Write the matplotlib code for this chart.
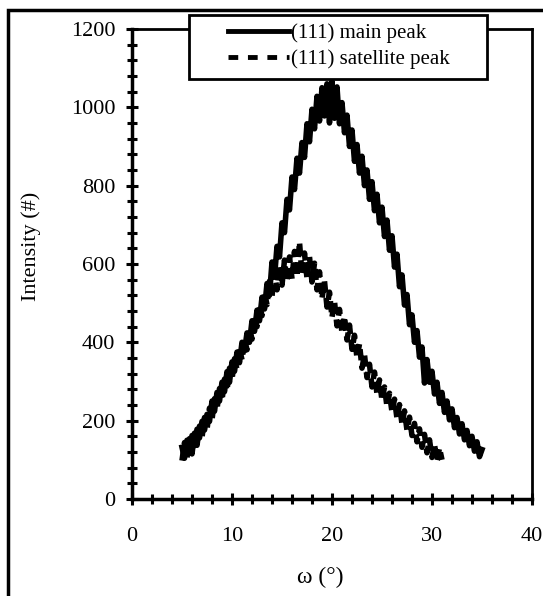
import numpy as np
import matplotlib
matplotlib.use('Agg')
import matplotlib.pyplot as plt
from matplotlib.patches import Rectangle
from matplotlib.lines import Line2D
from matplotlib.ticker import MultipleLocator

plt.rcParams['font.family'] = ['Liberation Serif', 'DejaVu Serif']
plt.rcParams['font.size'] = 15

# omega scans, 0.25 deg steps
omega_main = np.linspace(5.0, 35.0, 121)
omega_sat = np.linspace(5.0, 31.0, 105)

# (111) main peak intensity
main_peak = [
    132, 104, 150, 122, 162, 136, 178, 156, 198, 176, 216, 198, 250, 224, 272, 250,
    298, 274, 325, 298, 350, 326, 375, 348, 400, 378, 424, 400, 455, 428, 482, 455,
    515, 485, 550, 520, 605, 566, 645, 618, 705, 680, 765, 738, 822, 790, 870, 832,
    910, 872, 958, 912, 995, 945, 1028, 965, 1050, 978, 1060, 960, 1066, 972, 1052, 958,
    1012, 935, 980, 900, 942, 862, 905, 832, 875, 800, 840, 765, 810, 736, 778, 705,
    745, 670, 712, 635, 672, 592, 625, 542, 572, 495, 522, 445, 470, 400, 430, 362,
    388, 296, 356, 298, 326, 268, 298, 244, 272, 221, 250, 202, 230, 182, 208, 166,
    192, 151, 175, 136, 160, 122, 146, 108, 126,
]

# (111) satellite peak intensity
sat_peak = [
    98, 144, 106, 154, 115, 168, 137, 186, 157, 208, 177, 232, 202, 256, 229, 282,
    252, 306, 277, 334, 305, 358, 331, 384, 355, 408, 381, 436, 408, 466, 440, 496,
    468, 526, 496, 556, 518, 578, 534, 596, 546, 610, 556, 618, 562, 632, 568, 656,
    572, 628, 564, 618, 554, 602, 534, 580, 512, 556, 490, 528, 464, 504, 442, 484,
    424, 466, 406, 444, 382, 418, 360, 396, 334, 368, 310, 344, 286, 324, 268, 304,
    252, 286, 236, 270, 222, 255, 206, 241, 192, 225, 176, 209, 162, 193, 146, 179,
    132, 165, 118, 151, 106, 139, 96, 130, 100,
]

fig = plt.figure(figsize=(5.43, 5.96), dpi=100)
ax = fig.add_axes([0.2431, 0.1628, 0.7366, 0.7886])

ax.plot(omega_main, main_peak, color='black', lw=4)
ax.plot(omega_sat, sat_peak, color='black', lw=4, ls=(0, (2, 1)))

ax.set_xlim(0, 40)
ax.set_ylim(0, 1200)
ax.xaxis.set_major_locator(MultipleLocator(10))
ax.xaxis.set_minor_locator(MultipleLocator(2))
ax.yaxis.set_major_locator(MultipleLocator(200))
ax.yaxis.set_minor_locator(MultipleLocator(40))

ax.tick_params(which='both', direction='inout', width=2.2, color='black',
               top=False, right=False)
ax.tick_params(which='major', length=8)
ax.tick_params(which='minor', length=7)
ax.tick_params(axis='x', which='major', pad=16, labelsize=16)
ax.tick_params(axis='y', which='major', pad=8, labelsize=16)

for side in ['left', 'bottom']:
    ax.spines[side].set_linewidth(2.5)
for side in ['top', 'right']:
    ax.spines[side].set_linewidth(2)

ax.set_xlabel('ω (°)', fontsize=17)
ax.set_ylabel('Intensity (#)', fontsize=16)
ax.xaxis.set_label_coords(0.47, -0.145)
ax.yaxis.set_label_coords(-0.228, 0.538)

# legend box sits over the top spine
ax.add_patch(Rectangle((0.1425, 0.8936), 0.745, 0.1362, transform=ax.transAxes,
                       facecolor='white', edgecolor='black', lw=2,
                       clip_on=False, zorder=5))
handles = [Line2D([], [], color='black', lw=3.5),
           Line2D([], [], color='black', lw=3.5, ls=(0, (2, 2)))]
leg = ax.legend(handles, ['(111) main peak', '(111) satellite peak'],
                loc='center', bbox_to_anchor=(0.5175, 0.9638), frameon=False,
                fontsize=15, handlelength=2.9, handletextpad=0.1,
                borderpad=0, labelspacing=0.3)
leg.set_zorder(6)

# frame round the whole figure, open at right and bottom
fig.patches.append(Rectangle((0.0147, -0.2), 1.2, 1.183, transform=fig.transFigure,
                             fill=False, edgecolor='black', lw=2.5, clip_on=False))

fig.savefig('out.png', dpi=100)
